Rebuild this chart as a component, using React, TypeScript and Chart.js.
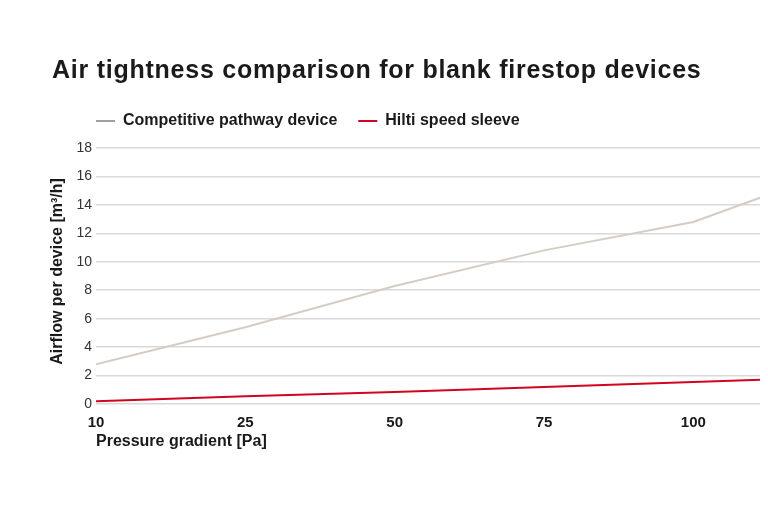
import React, { useEffect, useRef } from "react";
import { Chart, registerables } from "chart.js";

Chart.register(...registerables);

const pressureLabels = ["10", "25", "50", "75", "100", "150"];
const competitiveValues = [2.8, 5.4, 8.3, 10.8, 12.8, 16.6];
const hiltiValues = [0.2, 0.55, 0.85, 1.2, 1.55, 1.9];
const yTicks = [0, 2, 4, 6, 8, 10, 12, 14, 16, 18];

const FONT = "'Liberation Sans', Arial, Helvetica, sans-serif";
const TEXT = "#1a1a1a";

const layoutTweaks = {
  id: "layoutTweaks",
  afterLayout(chart: any) {
    const lg = chart.legend;
    if (lg) {
      const pad = lg.options.labels.padding;
      lg.left -= pad;
      lg.right -= pad;
    }
    const tb = chart.titleBlock;
    if (tb && !tb._spaced) {
      const orig = tb.draw.bind(tb);
      tb.draw = () => {
        const ctx = chart.ctx;
        ctx.save();
        (ctx as any).letterSpacing = "0.75px";
        orig();
        ctx.restore();
      };
      tb._spaced = true;
    }
  },
};

export default function App() {
  const ref = useRef<HTMLCanvasElement | null>(null);

  useEffect(() => {
    if (!ref.current) return;
    const toPts = (vals: number[]) => vals.map((v, i) => ({ x: i, y: v }));
    const chart = new Chart(ref.current, {
      type: "line",
      data: {
        datasets: [
          {
            label: "Competitive pathway device",
            data: toPts(competitiveValues),
            borderColor: "#d5cdc5",
            backgroundColor: "#a49e98",
            borderWidth: 2,
            pointRadius: 0,
            tension: 0,
          },
          {
            label: "Hilti speed sleeve",
            data: toPts(hiltiValues),
            borderColor: "#d2051e",
            backgroundColor: "#d2051e",
            borderWidth: 2,
            pointRadius: 0,
            tension: 0,
          },
        ],
      },
      options: {
        animation: false,
        responsive: false,
        layout: { padding: { left: 44, right: 0, top: 0, bottom: 52.8 }, autoPadding: false },
        plugins: {
          title: {
            display: true,
            text: "Air tightness comparison for blank firestop devices",
            align: "start",
            color: TEXT,
            font: { family: FONT, size: 25, weight: "bold", lineHeight: 1.2 },
            padding: { top: 48, bottom: 6 },
          },
          legend: {
            display: true,
            position: "top",
            align: "start",
            fullSize: false,
            labels: {
              color: TEXT,
              font: { family: FONT, size: 16, weight: "bold" },
              boxWidth: 19,
              boxHeight: 2,
              padding: 21,
              generateLabels: (c: any) =>
                Chart.defaults.plugins.legend.labels
                  .generateLabels(c)
                  .map((l: any) => ({ ...l, lineWidth: 0 })),
            },
          },
          tooltip: { enabled: false },
        },
        scales: {
          x: {
            type: "linear",
            min: 0,
            max: 4.5,
            grid: { display: false, drawTicks: false },
            border: { display: false },
            afterFit: (axis: any) => {
              axis.height = 47.2;
            },
            ticks: {
              stepSize: 1,
              includeBounds: false,
              padding: 10,
              color: TEXT,
              font: { family: FONT, size: 15, weight: "bold" },
              callback: (v: any) => pressureLabels[Number(v)] ?? "",
            },
            title: {
              display: true,
              text: "Pressure gradient [Pa]",
              align: "start",
              color: TEXT,
              font: { family: FONT, size: 16, weight: "bold", lineHeight: 1.2 },
              padding: { top: 0, bottom: 0 },
            },
          },
          y: {
            min: 0,
            max: 18.63,
            afterBuildTicks: (axis: any) => {
              axis.ticks = yTicks.map((v) => ({ value: v }));
            },
            afterFit: (axis: any) => {
              axis.width = 44;
            },
            grid: { color: "#d9d9d9", lineWidth: 1.5, drawTicks: false },
            border: { display: false },
            ticks: {
              padding: 4,
              color: "#333333",
              font: { family: FONT, size: 14 },
            },
            title: {
              display: true,
              text: "Airflow per device [m³/h]",
              color: TEXT,
              font: { family: FONT, size: 16, weight: "bold", lineHeight: 1.2 },
              padding: { top: -4, bottom: 0 },
            },
          },
        },
      },
      plugins: [layoutTweaks],
    });
    return () => chart.destroy();
  }, []);

  return (
    <div style={{ width: 760, height: 496 }}>
      <canvas ref={ref} width={760} height={496} style={{ display: "block" }} />
    </div>
  );
}
